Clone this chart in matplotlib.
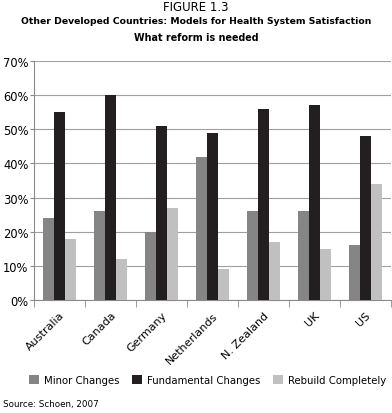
import numpy as np
import matplotlib.pyplot as plt
from matplotlib.ticker import PercentFormatter

countries = ["Australia", "Canada", "Germany", "Netherlands", "N. Zealand", "UK", "US"]
minor = [24, 26, 20, 42, 26, 26, 16]
fundamental = [55, 60, 51, 49, 56, 57, 48]
rebuild = [18, 12, 27, 9, 17, 15, 34]
series_names = ["Minor Changes", "Fundamental Changes", "Rebuild Completely"]
colors = ["#858585", "#231f20", "#c0c0c0"]

plt.rcParams['font.family'] = ['DejaVu Sans']

fig = plt.figure(figsize=(3.92, 4.14), dpi=100)
ax = fig.add_axes([0.087, 0.273, 0.91, 0.577])

x = np.arange(len(countries))
w = 0.22
for i, (vals, name, c) in enumerate(zip([minor, fundamental, rebuild], series_names, colors)):
    ax.bar(x + (i - 1) * w, vals, w, color=c, label=name, zorder=3)

ax.set_ylim(0, 70)
ax.set_xlim(-0.5, len(countries) - 0.5)
ax.set_yticks(range(0, 71, 10))
ax.yaxis.set_major_formatter(PercentFormatter(decimals=0))
ax.grid(axis='y', color='#a0a0a0', linewidth=0.8, zorder=0)
for s in ['top', 'right']:
    ax.spines[s].set_visible(False)
ax.spines['left'].set_color('#8a8a8a')
ax.spines['bottom'].set_color('#8a8a8a')
ax.tick_params(axis='y', length=3, color='#8a8a8a', labelsize=8.3, pad=1)

# category labels centered, separator ticks between groups
ax.set_xticks(x)
ax.set_xticklabels(countries, rotation=45, ha='right', rotation_mode='anchor', fontsize=8)
ax.tick_params(axis='x', length=0, pad=7)
ax.set_xticks(np.arange(-0.5, len(countries), 1), minor=True)
ax.tick_params(axis='x', which='minor', length=5, color='#8a8a8a')

fig.text(0.5, 0.983, "FIGURE 1.3", ha='center', va='center', fontsize=8.5)
fig.text(0.5, 0.947, "Other Developed Countries: Models for Health System Satisfaction",
         ha='center', va='center', fontsize=6.7, fontweight='bold')
fig.text(0.5, 0.909, "What reform is needed", ha='center', va='center', fontsize=6.9, fontweight='bold')

fig.legend(loc='center', bbox_to_anchor=(0.53, 0.08), ncol=3, frameon=False,
           fontsize=7.3, handlelength=1.0, handleheight=1.0, handletextpad=0.5, columnspacing=1.2)
fig.text(0.008, 0.022, "Source: Schoen, 2007", ha='left', va='center', fontsize=6.3)

fig.savefig("out.png", dpi=100)
